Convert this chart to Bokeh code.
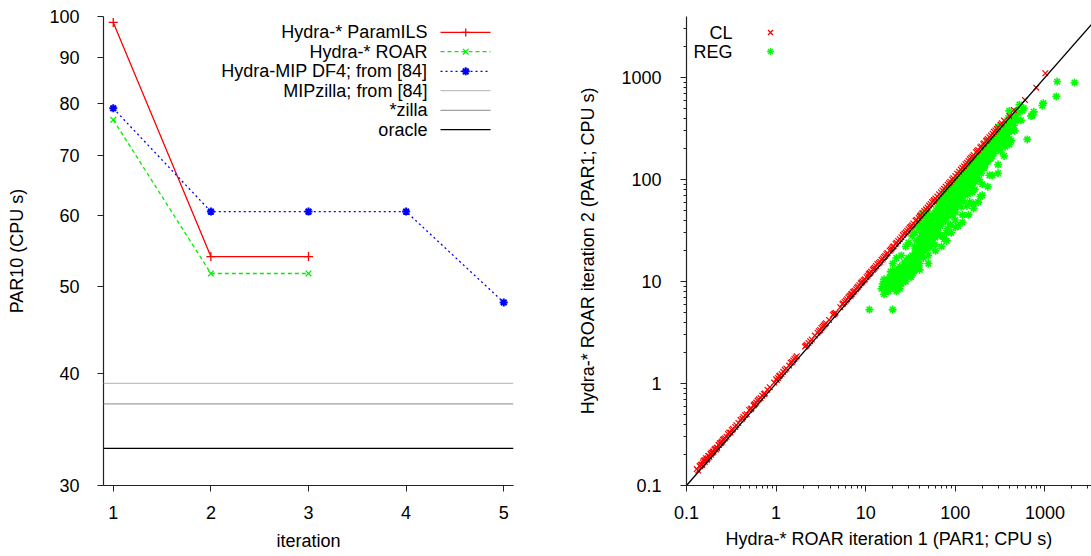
import math
from bokeh.plotting import figure
from bokeh.models import FixedTicker, CustomJSTickFormatter, Span, Label
from bokeh.layouts import row
from bokeh.embed import file_html
from bokeh.resources import INLINE

FONT = "Liberation Sans"
FS = "18px"

# ---------------- data: left panel ----------------
iterations = [1, 2, 3, 4, 5]
paramils = [98.5, 54.0, 54.0]
roar = [76.7, 51.7, 51.7]
df4 = [79.0, 60.6, 60.6, 60.6, 48.0]
mipzilla = 39.0
starzilla = 37.0
oracle = 33.0
par10_ticks = [30, 40, 50, 60, 70, 80, 90, 100]

# ---------------- data: right panel ----------------
cl_x = [0.13, 0.14, 0.145, 0.15, 0.155, 0.16, 0.165, 0.17, 0.175, 0.18, 0.185, 0.19, 0.2, 0.21,
        0.22, 0.23, 0.24, 0.25, 0.27, 0.29, 0.31, 0.33, 0.36, 0.4, 0.42, 0.45, 0.5, 0.53, 0.57,
        0.6, 0.64, 0.7, 0.75, 0.85, 1.0, 1.05, 1.1, 1.15, 1.3, 1.45, 1.55, 1.65, 2.1, 2.2, 2.4,
        2.9, 3.1, 3.3, 3.5, 4.3, 4.6, 5.5, 5.8, 6.2, 6.6, 7.0, 7.5, 8.0, 8.5, 9.0, 9.5, 10.2,
        10.8, 11.5, 12.3, 13.0, 14.0, 15.0, 16.0, 17.0, 18.5, 20.0, 21.5, 23.0, 25.0, 27.0, 29.0,
        31.0, 34.0, 37.0, 40.0, 43.0, 47.0, 51.0, 55.0, 60.0, 66.0, 72.0, 78.0, 85.0, 92.0, 100,
        110, 120, 130, 140, 150, 160, 175, 190, 205, 220, 240, 260, 290, 320, 350, 600, 800, 1010,
        0.135, 0.158, 0.172, 0.195, 0.215, 0.235, 0.26, 0.3, 0.38, 0.47, 0.56, 0.62, 0.67, 1.02,
        1.08, 1.2, 1.5, 1.6, 2.15, 2.3, 3.0, 3.2, 3.4, 4.4, 5.6, 6.0, 6.4, 6.8, 7.2, 7.8, 8.2,
        8.8, 11.0, 12.0, 13.5, 14.5, 19.0, 22.0, 24.0, 26.0, 33.0, 36.0, 39.0, 45.0, 58.0, 63.0,
        69.0, 82.0, 95.0, 105, 115, 135, 145, 170, 230, 250, 270, 400,
        0.142, 0.148, 0.152, 0.162, 0.168, 0.178, 0.188, 0.198, 0.205, 0.218, 0.228, 0.245,
        0.255, 0.28, 0.32, 0.35, 0.43, 0.52, 0.58, 0.73, 0.8, 0.95, 1.25, 1.4, 1.7, 2.5, 2.7,
        3.6, 3.9, 4.5, 5.2, 6.9, 7.3, 9.2, 9.8, 10.5, 11.2, 12.6, 15.5, 16.5, 17.5, 19.5, 20.5,
        28.0, 30.0, 32.0, 41.0, 49.0, 53.0, 57.0, 75.0, 88.0, 125, 155, 180, 195, 210, 225,
        280, 300, 330, 450]
cl_y = [0.145, 0.155, 0.16, 0.16, 0.175, 0.17, 0.185, 0.18, 0.195, 0.19, 0.205, 0.21, 0.215, 0.23,
        0.235, 0.25, 0.26, 0.27, 0.29, 0.32, 0.33, 0.36, 0.39, 0.44, 0.45, 0.49, 0.55, 0.57, 0.62,
        0.65, 0.7, 0.76, 0.8, 0.92, 1.1, 1.13, 1.2, 1.24, 1.4, 1.6, 1.68, 1.8, 2.3, 2.4, 2.6,
        3.15, 3.35, 3.6, 3.8, 4.7, 4.95, 6.0, 6.3, 6.7, 7.2, 7.6, 8.1, 8.7, 9.2, 9.8, 10.3, 11.0,
        11.8, 12.5, 13.3, 14.2, 15.2, 16.3, 17.4, 18.5, 20.0, 21.8, 23.3, 25.0, 27.2, 29.5, 31.5,
        33.8, 37.0, 40.3, 43.5, 46.8, 51.0, 55.5, 60.0, 65.0, 71.5, 78.0, 85.0, 92.0, 100, 108,
        119, 130, 141, 152, 163, 174, 190, 206, 222, 238, 260, 281, 313, 345, 378, 600, 795, 1100,
        0.14, 0.175, 0.185, 0.21, 0.225, 0.26, 0.285, 0.33, 0.41, 0.5, 0.61, 0.68, 0.72, 1.08,
        1.18, 1.3, 1.62, 1.74, 2.35, 2.5, 3.25, 3.5, 3.7, 4.8, 6.1, 6.5, 7.0, 7.3, 7.9, 8.4, 8.9,
        9.6, 12.0, 13.0, 14.8, 15.6, 20.5, 24.0, 26.0, 28.5, 35.5, 39.5, 42.0, 49.0, 63.0, 68.0,
        75.0, 89.0, 103, 114, 125, 146, 158, 185, 250, 270, 293, 420,
        0.155, 0.16, 0.168, 0.178, 0.18, 0.195, 0.2, 0.215, 0.225, 0.235, 0.25, 0.265,
        0.28, 0.3, 0.35, 0.375, 0.47, 0.56, 0.63, 0.79, 0.87, 1.02, 1.36, 1.5, 1.85, 2.7, 2.95,
        3.9, 4.2, 4.85, 5.6, 7.5, 7.9, 10.0, 10.5, 11.4, 12.1, 13.7, 16.8, 17.8, 19.0, 21.0, 22.2,
        30.3, 32.5, 34.5, 44.5, 53.0, 57.5, 61.5, 81.0, 95.0, 135, 168, 195, 211, 227, 243,
        302, 325, 356, 480]

reg_x = [15, 16, 17, 18, 19, 20, 21, 22, 23, 24, 25, 26, 27, 28, 30, 32, 34, 22, 18, 25, 28, 31,
         20, 24, 11, 20, 16, 17, 19, 21, 23, 26, 29, 33, 35, 27, 30,
         35, 38, 40, 42, 45, 48, 50, 52, 55, 58, 36, 40, 44, 47, 50, 53, 56, 60, 38, 46, 42,
         37, 39, 41, 43, 45, 49, 51, 54, 57, 59, 44, 48, 52, 39,
         62, 65, 68, 70, 72, 75, 78, 80, 85, 88, 90, 95, 100, 100, 105, 110, 115, 120, 65, 75,
         85, 95, 70, 82, 92, 108, 118,
         63, 67, 71, 74, 77, 81, 84, 87, 91, 94, 98, 103, 107, 112, 116, 63, 79, 101, 113,
         125, 130, 135, 140, 145, 150, 160, 165, 170, 180, 185, 190, 200, 210, 220, 230, 240,
         250, 135, 155, 175, 200, 215, 230, 245,
         122, 128, 133, 138, 143, 148, 153, 158, 163, 168, 173, 178, 183, 188, 195, 205, 212,
         225, 235, 248, 122, 160, 240,
         260, 270, 280, 290, 300, 310, 320, 340, 350, 360, 380, 400, 420, 300, 350, 440, 380,
         460, 480, 400,
         255, 265, 275, 285, 295, 305, 315, 330, 345, 370, 390, 410, 450, 470, 500, 520,
         540, 558, 580, 636, 700, 723, 750, 935, 960, 1340, 1372, 2140,
         18, 20, 22, 24, 26, 28, 30, 32, 34, 36, 38, 40, 42, 44, 46, 48, 50, 52, 55, 58, 60,
         62, 65, 68, 70, 72, 75, 78, 80, 83, 86, 90, 93, 97, 100, 104, 108, 112, 118, 124,
         130, 136, 142, 150, 157, 165, 172, 180, 190, 200, 210, 222, 235, 250, 265, 280, 295,
         310, 330, 360, 390, 420,
         15.5, 16.5, 17.5, 18.5, 19.5, 20.5, 21.5, 22.5, 23.5, 24.5, 25.5, 26.5, 27.5, 29, 31,
         33, 36, 16, 19, 21, 24, 27, 30, 33, 35, 37, 40, 43, 46, 49, 52, 55, 58, 61, 64, 67,
         70, 74, 78, 82, 86, 90, 95, 100,
         40, 50, 60, 70, 80, 90, 100, 120, 140, 160, 180, 200, 230, 260, 300, 350, 400,
         45, 55, 65, 75, 85, 95, 105, 115, 125, 135, 145, 155, 165, 175, 185, 195, 205, 215,
         225, 240, 255, 270, 285, 300, 320, 340, 360, 380, 420, 450, 500,
         20, 22, 25, 28, 30, 33, 35, 38, 40, 42, 45, 48, 110, 120, 130, 150, 170]
reg_y = [8.5, 9, 10, 9.5, 11, 10, 9, 10.5, 12, 11, 9.5, 12.5, 11, 13, 12, 13.5, 12, 8, 8, 13, 10, 14,
         12, 8.5, 5.3, 5.3, 7.5, 8.2, 9.2, 11.5, 9.8, 10.5, 12.8, 15, 13, 14.5, 16.5,
         16, 18, 15, 22, 20, 25, 18, 28, 24, 30, 20, 24, 17, 30, 35, 22, 40, 27, 14, 38, 28,
         17, 21, 19, 25, 27, 21, 31, 26, 33, 23, 35, 42, 45, 33,
         35, 30, 45, 38, 28, 26, 50, 42, 55, 36, 60, 48, 70, 40, 55, 80, 62, 45, 55, 65,
         75, 90, 50, 33, 44, 35, 95,
         42, 37, 58, 44, 39, 62, 48, 68, 52, 72, 58, 85, 66, 73, 54, 28, 30, 48, 100,
         100, 70, 85, 120, 60, 95, 130, 80, 110, 150, 100, 68, 170, 130, 200, 150, 110,
         210, 55, 75, 140, 90, 160, 230, 180,
         85, 115, 95, 72, 105, 135, 88, 112, 150, 95, 125, 175, 120, 160, 135, 185, 145,
         175, 195, 160, 62, 58, 240,
         240, 180, 260, 200, 115, 250, 190, 270, 230, 210, 280, 250, 240, 330, 340, 380, 360,
         300, 470, 470,
         195, 220, 230, 240, 265, 215, 280, 240, 300, 330, 300, 350, 340, 400, 450, 540,
         380, 474, 500, 247, 420, 424, 460, 531, 560, 652, 912, 891,
         10.5, 8.8, 12.5, 10, 11.5, 11.8, 13.5, 11, 16, 18.5, 16.5, 20, 18, 23, 21, 27, 24,
         33, 29, 36, 32, 48, 40, 35, 55, 46, 58, 44, 70, 55, 62, 75, 66, 80, 58, 95, 75, 88,
         78, 110, 95, 130, 90, 120, 140, 125, 160, 130, 180, 150, 210, 190, 170, 250, 250,
         220, 290, 300, 320, 300, 400, 420,
         9.5, 8.5, 9.8, 11, 10, 11.8, 10.2, 9.3, 11.2, 12.2, 10.8, 13.5, 12, 11.2, 12.5,
         14.2, 15, 10.5, 12.5, 13, 14, 15.5, 17, 18, 22, 25, 27, 30, 33, 37, 39, 43, 46, 50,
         52, 60, 63, 68, 75, 80, 85, 90, 95, 98,
         13, 15, 20, 22, 25, 30, 34, 38, 45, 52, 60, 70, 85, 110, 140, 170, 220,
         26, 32, 38, 45, 50, 55, 65, 70, 75, 82, 88, 100, 105, 115, 125, 115, 130, 140,
         150, 160, 170, 200, 210, 230, 260, 280, 260, 320, 300, 420, 380,
         15, 17, 18, 22, 24, 28, 30, 36, 38, 46, 44, 50, 112, 118, 132, 148, 160]

axis_ticks = [0.1, 1, 10, 100, 1000]

# ---------------- helpers ----------------
fmt = CustomJSTickFormatter(code="return tick.toString();")


def style_axes(p):
    p.outline_line_color = None
    p.xgrid.visible = False
    p.ygrid.visible = False
    p.background_fill_color = "white"
    p.border_fill_color = "white"
    for ax in (p.xaxis[0], p.yaxis[0]):
        ax.axis_line_color = "#222222"
        ax.axis_line_width = 1.2
        ax.major_tick_line_color = "#222222"
        ax.minor_tick_line_color = "#222222"
        ax.major_tick_in = 0
        ax.major_tick_out = 6
        ax.minor_tick_in = 0
        ax.minor_tick_out = 3
        ax.major_label_text_font = FONT
        ax.major_label_text_font_size = FS
        ax.major_label_text_color = "black"
        ax.axis_label_text_font = FONT
        ax.axis_label_text_font_size = FS
        ax.axis_label_text_font_style = "normal"
        ax.axis_label_text_color = "black"


# ---------------- left panel ----------------
XL0, XL1 = 0.9, 5.1
YL0, YL1 = 30, 100
p1 = figure(width=538, height=555, x_range=(XL0, XL1), y_range=(YL0, YL1), y_axis_type="log",
            output_backend="svg", toolbar_location=None,
            min_border_left=103, min_border_right=25, min_border_top=16, min_border_bottom=70)
style_axes(p1)
p1.xaxis.ticker = FixedTicker(ticks=iterations, minor_ticks=[])
p1.yaxis.ticker = FixedTicker(ticks=par10_ticks, minor_ticks=[])
p1.yaxis.formatter = fmt
p1.xaxis.axis_label = "iteration"
p1.yaxis.axis_label = "PAR10 (CPU s)"
p1.xaxis.major_label_standoff = 14
p1.yaxis.major_label_standoff = 18
p1.xaxis.axis_label_standoff = 9
p1.yaxis.axis_label_standoff = 19

RED, GREEN, BLUE = "#ff0000", "#00ee00", "#0000ff"
LGRAY, MGRAY = "#c0c0c0", "#a0a0a0"

for loc, col in ((mipzilla, LGRAY), (starzilla, MGRAY), (oracle, "black")):
    p1.add_layout(Span(location=loc, dimension="width", line_color=col, line_width=1.3))

p1.line(iterations[:3], paramils, line_color=RED, line_width=1.3)
p1.scatter(iterations[:3], paramils, marker="cross", size=9, line_color=RED, line_width=1.3)
p1.line(iterations[:3], roar, line_color=GREEN, line_width=1.3, line_dash="4 3")
p1.scatter(iterations[:3], roar, marker="x", size=8, line_color=GREEN, line_width=1.3)
p1.line(iterations, df4, line_color=BLUE, line_width=1.3, line_dash="2 3")
p1.scatter(iterations, df4, marker="asterisk", size=8, line_color=BLUE, line_width=2)


def lx1(frac):
    return XL0 + frac * (XL1 - XL0)


def ly1(frac_top):
    return 10 ** (math.log10(YL1) - frac_top * (math.log10(YL1) - math.log10(YL0)))


legend1 = [
    ("Hydra-* ParamILS", RED, "solid", "cross"),
    ("Hydra-* ROAR", GREEN, "4 3", "x"),
    ("Hydra-MIP DF4; from [84]", BLUE, "2 3", "asterisk"),
    ("MIPzilla; from [84]", LGRAY, "solid", None),
    ("*zilla", MGRAY, "solid", None),
    ("oracle", "black", "solid", None),
]
row_fracs = [0.034, 0.075, 0.117, 0.158, 0.200, 0.241]
for (name, col, dash, mk), fr in zip(legend1, row_fracs):
    yy = ly1(fr)
    p1.add_layout(Label(x=lx1(0.79), y=yy, text=name, text_align="right", text_baseline="middle",
                        text_font=FONT, text_font_size=FS, text_color="black"))
    p1.line([lx1(0.822), lx1(0.944)], [yy, yy], line_color=col, line_width=1.3, line_dash=dash)
    if mk:
        p1.scatter([lx1(0.8835)], [yy], marker=mk, size=8, line_color=col,
                   line_width=2 if mk == "asterisk" else 1.3)

# ---------------- right panel ----------------
XR0, XR1 = 0.1, 3310
YR0, YR1 = 0.1, 3960
p2 = figure(width=553, height=555, x_range=(XR0, XR1), y_range=(YR0, YR1),
            x_axis_type="log", y_axis_type="log",
            output_backend="svg", toolbar_location=None,
            min_border_left=148, min_border_right=0, min_border_top=16, min_border_bottom=70)
style_axes(p2)
minor = [m * d for d in axis_ticks for m in range(2, 10)]
p2.xaxis.ticker = FixedTicker(ticks=axis_ticks, minor_ticks=minor)
p2.yaxis.ticker = FixedTicker(ticks=axis_ticks, minor_ticks=minor)
p2.xaxis.formatter = fmt
p2.yaxis.formatter = fmt
p2.xaxis.axis_label = "Hydra-* ROAR iteration 1 (PAR1; CPU s)"
p2.yaxis.axis_label = "Hydra-* ROAR iteration 2 (PAR1; CPU s)"
p2.xaxis.major_label_standoff = 14
p2.yaxis.major_label_standoff = 19
p2.xaxis.axis_label_standoff = 7
p2.yaxis.axis_label_standoff = 20

p2.scatter(reg_x, reg_y, marker="asterisk", size=8, line_color="#00ff00", line_width=1.6)
p2.scatter(cl_x, cl_y, marker="x", size=8, line_color="#ff0000", line_width=1.2)
p2.line([XR0, XR1], [XR0, XR1], line_color="black", line_width=1.3)


def lx2(px):
    return 10 ** (math.log10(XR0) + px / 405 * (math.log10(XR1) - math.log10(XR0)))


def ly2(px_top):
    return 10 ** (math.log10(YR1) - px_top / 469 * (math.log10(YR1) - math.log10(YR0)))


for name, col, mk, off in (("CL", "#ff0000", "x", 16), ("REG", "#00ff00", "asterisk", 35)):
    p2.add_layout(Label(x=lx2(46), y=ly2(off), text=name, text_align="right", text_baseline="middle",
                        text_font=FONT, text_font_size=FS, text_color="black"))
    p2.scatter([lx2(84)], [ly2(off)], marker=mk, size=7, line_color=col, line_width=1.3)

layout = row(p1, p2)
open("out.html", "w").write(file_html(layout, INLINE))
